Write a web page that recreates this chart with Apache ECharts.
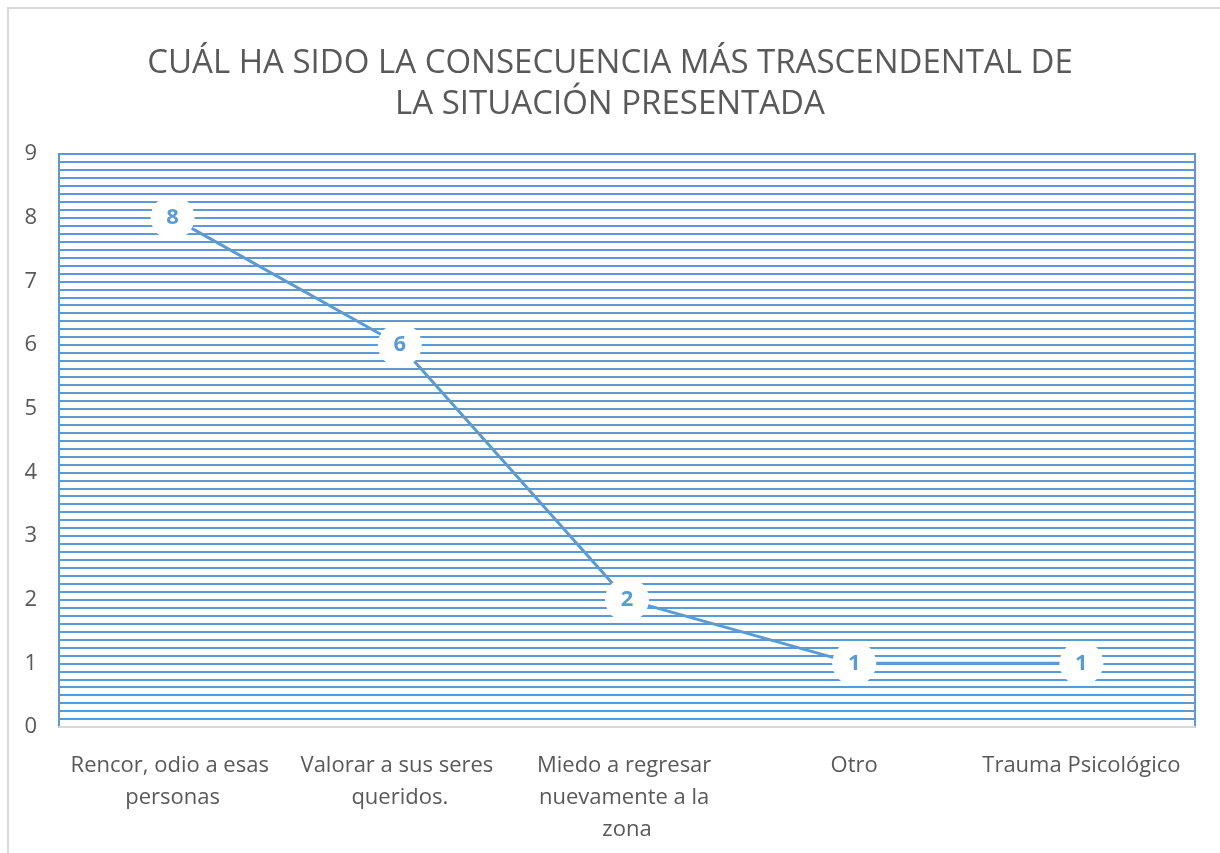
<!DOCTYPE html>
<html>
<head>
<meta charset="utf-8">
<script src="https://cdn.jsdelivr.net/npm/echarts@6/dist/echarts.min.js"></script>
<style>
  html, body { margin: 0; padding: 0; background: #fff; }
  #main { width: 1220px; height: 853px; }
</style>
</head>
<body>
<div id="main"></div>
<script>
var categories = ['Rencor, odio a esas personas', 'Valorar a sus seres queridos.', 'Miedo a regresar nuevamente a la zona', 'Otro', 'Trauma Psicológico'];
var values = [8, 6, 2, 1, 1];
var titleLines = ['CUÁL HA SIDO LA CONSECUENCIA MÁS TRASCENDENTAL DE', 'LA SITUACIÓN PRESENTADA'];

var blue = '#5b9bd5';
var grey = '#595959';

var myChart = echarts.init(document.getElementById('main'));

var option = {
    backgroundColor: '#fff',
    animation: false,
    title: {
        text: titleLines.join('\n'),
        left: 'center',
        top: 38,
        textStyle: {
            color: grey,
            fontFamily: 'Open Sans',
            fontWeight: 'normal',
            fontSize: 33,
            lineHeight: 41
        }
    },
    graphic: [{
        type: 'polyline',
        shape: { points: [[8, 900], [8, 8], [1230, 8]] },
        style: { stroke: '#d9d9d9', lineWidth: 2, fill: null }
    }],
    grid: {
        left: 59,
        right: 25,
        top: 154,
        bottom: 126,
        show: true,
        borderColor: blue,
        borderWidth: 2
    },
    xAxis: {
        type: 'category',
        data: categories,
        boundaryGap: true,
        axisLine: { lineStyle: { color: '#d9d9d9', width: 2 } },
        axisTick: { show: false },
        axisLabel: {
            color: grey,
            fontFamily: 'Open Sans',
            fontSize: 22,
            lineHeight: 32,
            margin: 23,
            width: 212,
            overflow: 'break',
            interval: 0
        }
    },
    yAxis: {
        type: 'value',
        min: 0,
        max: 9,
        interval: 1,
        axisLine: { show: false },
        axisTick: { show: false },
        axisLabel: {
            color: grey,
            fontFamily: 'Open Sans',
            fontSize: 22,
            margin: 22
        },
        splitLine: { lineStyle: { color: blue, width: 2 } },
        minorTick: { show: false, splitNumber: 8 },
        minorSplitLine: { show: true, lineStyle: { color: blue, width: 2 } }
    },
    series: [{
        type: 'line',
        data: values,
        symbol: 'circle',
        symbolSize: 44,
        showSymbol: true,
        itemStyle: { color: '#fff', borderWidth: 0 },
        lineStyle: { color: blue, width: 3 },
        label: {
            show: true,
            position: 'inside',
            color: blue,
            fontFamily: 'Open Sans',
            fontWeight: 'bold',
            fontSize: 22
        },
        z: 5
    }]
};

myChart.setOption(option);
</script>
</body>
</html>
